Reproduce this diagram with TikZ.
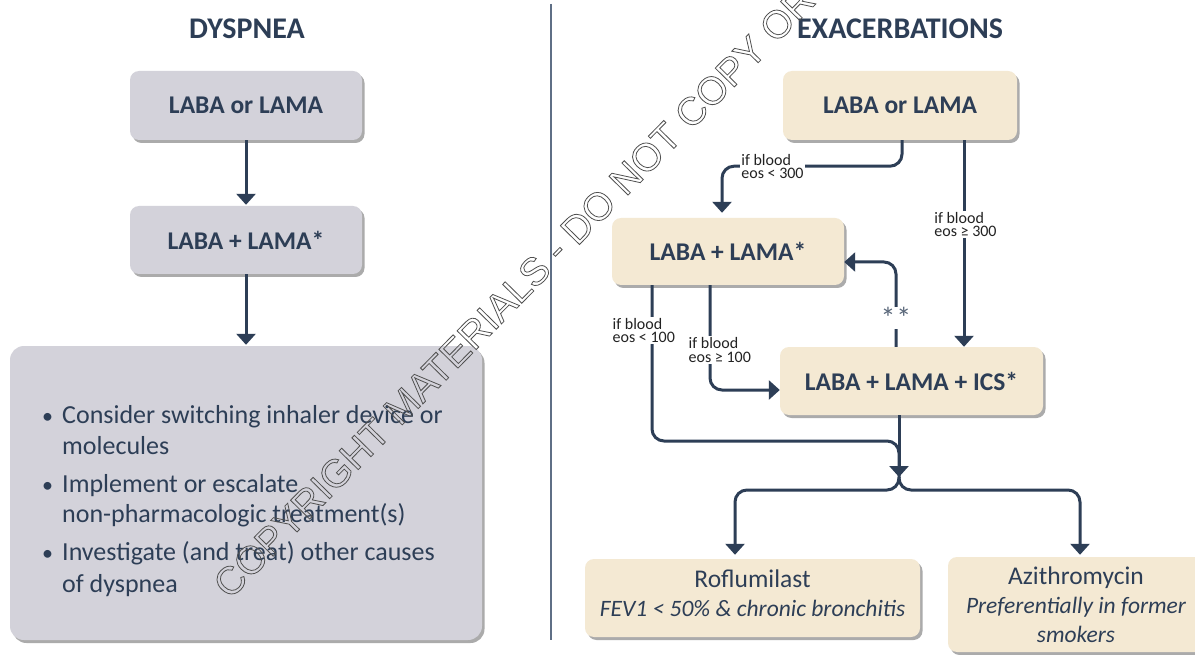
\documentclass[tikz,border=0pt]{standalone}
\usepackage{fontspec}
\setmainfont{Carlito}
\newfontfamily\wmfont{Liberation Sans}
\usetikzlibrary{arrows.meta,shadows,calc}
\definecolor{navy}{HTML}{2D3E56}
\definecolor{grayfill}{HTML}{D3D2DA}
\definecolor{beige}{HTML}{F4E9D3}
\definecolor{sepcol}{HTML}{5F6F86}
\definecolor{wmcol}{HTML}{505050}
\definecolor{lblcol}{HTML}{222222}
\begin{document}
\begin{tikzpicture}[x=1pt,y=-1pt,
  box/.style={rounded corners=9pt, draw=none, text=navy, inner sep=0pt,
    drop shadow={shadow xshift=2.5pt, shadow yshift=-3pt, fill=black, opacity=0.33}},
  graybox/.style={box, fill=grayfill},
  beigebox/.style={box, fill=beige},
  boldtxt/.style={font=\fontsize{25.5}{30}\selectfont\bfseries},
  titletxt/.style={font=\fontsize{30}{34}\selectfont\bfseries, text=navy, inner sep=0pt},
  conn/.style={draw=navy, line width=3pt, -{Triangle[width=19pt,length=11pt]}, rounded corners=12pt},
  plainconn/.style={draw=navy, line width=3pt, rounded corners=12pt},
  lbl/.style={fill=white, text=lblcol, font=\fontsize{16}{13.5}\selectfont, align=left, inner sep=1.5pt},
]
\useasboundingbox (0,0) rectangle (1195,655);
\fill[white] (0,0) rectangle (1195,655);

% titles
\node[titletxt] (t1) at (247,29) {DYSPNEA};
\node[titletxt] (t2) at (900,29) {EXACERBATIONS};

% separator
\coordinate (sepA) at (551,4);
\coordinate (sepB) at (551,640);
\draw[sepcol, line width=1.2pt] (sepA) -- (sepB);

% left column
\node[graybox, boldtxt, minimum width=232pt, minimum height=69pt] (L1) at (246,105.5) {LABA or LAMA};
\node[graybox, boldtxt, minimum width=232pt, minimum height=68pt] (L2) at (246,240) {LABA + LAMA*};
\node[graybox, rounded corners=14pt, minimum width=472pt, minimum height=294pt] (L3) at (246,493) {};
\node[anchor=base west, inner sep=0pt, text=navy, font=\fontsize{26}{31}\selectfont] (blist) at (42,423)
 {\begin{tabular}[t]{@{}l@{}l@{}}
 \makebox[20pt][l]{\fontsize{22}{31}\selectfont•} & Consider switching inhaler device or\\
  & molecules\\[7pt]
 \makebox[20pt][l]{\fontsize{22}{31}\selectfont•} & Implement or escalate\\
  & non-pharmacologic treatment(s)\\[7pt]
 \makebox[20pt][l]{\fontsize{22}{31}\selectfont•} & Investigate (and treat) other causes\\
  & of dyspnea
 \end{tabular}};
\draw[conn, shorten >=1pt] (L1) -- (L2);
\draw[conn, shorten >=1pt] (L2) -- (L3);

% right column
\node[beigebox, boldtxt, minimum width=234pt, minimum height=69pt] (R1) at (900,105.5) {LABA or LAMA};
\node[beigebox, boldtxt, minimum width=232pt, minimum height=67pt] (R2) at (728,251.5) {LABA + LAMA*};
\node[beigebox, boldtxt, minimum width=263pt, minimum height=68pt] (R3) at (911.5,381) {LABA + LAMA + ICS*};
\node[beigebox, minimum width=335pt, minimum height=78pt, align=center, font=\fontsize{25.5}{29}\selectfont] (R4) at (752.5,598)
 {Roflumilast\\ \fontsize{23.5}{29}\selectfont\itshape FEV1 < 50\% \& chronic bronchitis\rule[-9pt]{0pt}{9pt}};
\node[beigebox, minimum width=256pt, minimum height=95pt, align=center, font=\fontsize{25.5}{29}\selectfont] (R5) at (1076,604.5)
 {Azithromycin\\ \fontsize{23.5}{28}\selectfont\itshape Preferentially in former\\ \fontsize{23.5}{27}\selectfont\itshape smokers};

\coordinate (m) at (899,477);
\coordinate (s) at (899,490);

% connectors
\draw[conn, shorten >=5pt] ([xshift=2pt]R1.south) -- ++(0,26) -| ([xshift=-6pt]R2.north);
\node[lbl] (e300) at (772.5,166.5) {if blood\\eos < 300};

\draw[conn] ([xshift=64pt]R1.south) -- ([xshift=64pt]R1.south |- R3.north);
\node[lbl] (e300b) at (965.5,224.5) {if blood\\eos ≥ 300};

\draw[conn] ([xshift=-15.5pt]R3.north) |- ([yshift=-10.5pt]R2.east);
\node[lbl, text=navy!80, font=\fontsize{30}{30}\selectfont, inner sep=0pt] (ss) at (896,318) {*\hspace{1pt}*};

\draw[conn] ([xshift=-18pt]R2.south) |- ([yshift=-9pt]R3.west);
\node[lbl, anchor=west] (e100b) at (687,350) {if blood\\eos ≥ 100};

\draw[plainconn] ([xshift=-76pt]R2.south) |- ([yshift=36pt]m) -- (m);
\node[lbl, anchor=west] (e100) at (611,330.5) {if blood\\eos < 100};

\draw[conn] (R3.south -| m) -- (m);
\draw[conn, shorten >=4pt] (m) -- (s) -| ([xshift=-17.5pt]R4.north);
\draw[conn, shorten >=2pt] (m) -- (s) -| ([xshift=4pt]R5.north);

% watermark
\node[rotate=45.5, text=wmcol, font=\wmfont\fontsize{39}{39}\selectfont, inner sep=0pt] (wm) at (514,292)
 {\special{pdf:literal direct 1 Tr 0.8 w}COPYRIGHT MATERIALS - DO NOT COPY OR\special{pdf:literal direct 0 Tr}};
\end{tikzpicture}
\end{document}
